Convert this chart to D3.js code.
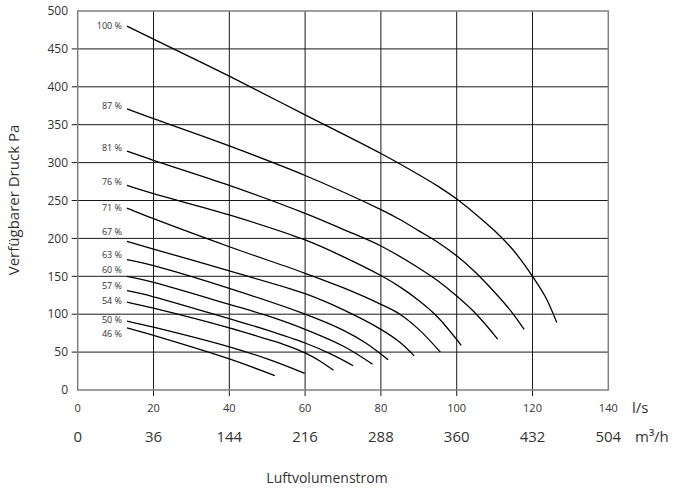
<!DOCTYPE html>
<html><head><meta charset="utf-8">
<script src="https://cdn.jsdelivr.net/npm/d3@7"></script>
<style>
body{margin:0;background:#fff;}
text{font-family:"Open Sans","Noto Sans",sans-serif;}
</style></head>
<body><svg id="c" width="678" height="490"></svg>
<script>
const speeds = ["100 %","87 %","81 %","76 %","71 %","67 %","63 %","60 %","57 %","54 %","50 %","46 %"];
const labelPa = [481,375,320,274,240,208,178,158,138,118,92,74];
const c100 = [[13,480],[20,463],[40,414],[60,363],[80,312],[90,284],[95,269],[100,252],[105,232],[110,210],[115,184],[120,150],[123.5,122],[126.4,89]];
const c87  = [[13,371],[20,358],[40,322],[60,283],[80,238],[85,225],[90,210],[95,195],[100,177],[105,155],[110,129],[114,106],[117.8,80]];
const c81  = [[13,315],[20,303],[40,270],[60,233],[70,212],[80,190],[90,161],[95,144],[100,124],[105,101],[110.8,67]];
const c76  = [[13,270],[20,259],[40,231],[60,198],[70,176],[80,151],[85,136],[90,118],[95,96],[101.2,59]];
const c71  = [[13,240],[20,226],[40,189],[60,154],[70,135],[80,113],[85,100],[90,80],[95.7,50]];
const c67  = [[13,196],[20,186],[40,157],[60,127],[70,106],[80,80],[85,63],[88.8,45]];
const c63  = [[13,172],[20,164],[40,134],[60,100],[70,79],[76,62],[81.9,40]];
const c60  = [[13,150],[20,142],[40,113],[50,98],[60,80],[70,58],[77.8,34]];
const c57  = [[13,131],[20,123],[40,94],[50,79],[60,62],[67,47],[72.7,32]];
const c54  = [[13,116],[20,108],[40,82],[50,67],[55,59],[60,49],[64,38],[67.5,26]];
const c50  = [[13,91],[20,83],[40,57],[50,41],[59.9,22]];
const c46  = [[13,82],[20,72],[40,41],[52,19]];
const curves = [c100,c87,c81,c76,c71,c67,c63,c60,c57,c54,c50,c46];
const xTicks = [0,20,40,60,80,100,120,140];
const m3hLabels = ["0","36","144","216","288","360","432","504"];
const yTicks = [0,50,100,150,200,250,300,350,400,450,500];

const svg = d3.select("#c");
const x = d3.scaleLinear().domain([0,140]).range([77.7,608.3]);
const y = d3.scaleLinear().domain([0,500]).range([390,11]);

// grid
const g = svg.append("g");
g.selectAll("line.h").data(yTicks.filter(d=>d>0&&d<500)).join("line")
  .attr("x1",x(0)-6).attr("x2",x(140)).attr("y1",d=>y(d)).attr("y2",d=>y(d))
  .attr("stroke","#1a1a1a").attr("stroke-width",1);
g.selectAll("line.v").data(xTicks.filter(d=>d>0&&d<140)).join("line")
  .attr("y1",y(500)).attr("y2",y(0)+6).attr("x1",d=>x(d)).attr("x2",d=>x(d))
  .attr("stroke","#1a1a1a").attr("stroke-width",1);
// frame
svg.append("rect").attr("x",x(0)).attr("y",y(500)).attr("width",x(140)-x(0)).attr("height",y(0)-y(500))
  .attr("fill","none").attr("stroke","#808080").attr("stroke-width",1.5);

// y labels
svg.selectAll("text.yl").data(yTicks).join("text")
  .attr("x",68).attr("y",d=>y(d)).attr("dy","0.35em").attr("text-anchor","end")
  .attr("font-size",12).attr("fill","#333").text(d=>d);
// x labels row 1
svg.selectAll("text.xl").data(xTicks).join("text")
  .attr("x",d=>x(d)).attr("y",408).attr("dy","0.35em").attr("text-anchor","middle")
  .attr("font-size",11).attr("fill","#333").text(d=>d);
svg.append("text").attr("x",632).attr("y",408).attr("dy","0.35em").attr("font-size",15).attr("fill","#333").text("l/s");
// x labels row 2
svg.selectAll("text.xm").data(xTicks).join("text")
  .attr("x",d=>x(d)).attr("y",437).attr("dy","0.35em").attr("text-anchor","middle")
  .attr("font-size",15).attr("fill","#333").text((d,i)=>m3hLabels[i]);
svg.append("text").attr("x",635).attr("y",437).attr("dy","0.35em").attr("font-size",15).attr("fill","#333").text("m³/h");
// axis titles
svg.append("text").attr("x",327).attr("y",478).attr("dy","0.35em").attr("text-anchor","middle")
  .attr("font-size",14).attr("fill","#333").text("Luftvolumenstrom");
svg.append("text").attr("transform","translate(14,200) rotate(-90)").attr("dy","0.35em").attr("text-anchor","middle")
  .attr("font-size",15).attr("fill","#333").text("Verfügbarer Druck Pa");

// curves
const line = d3.line().x(d=>x(d[0])).y(d=>y(d[1])).curve(d3.curveCatmullRom.alpha(0.5));
svg.selectAll("path.c").data(curves).join("path")
  .attr("d",line).attr("fill","none").attr("stroke","#000").attr("stroke-width",1.3);
svg.selectAll("text.cl").data(speeds).join("text")
  .attr("x",122).attr("y",(d,i)=>y(labelPa[i])).attr("dy","0.35em").attr("text-anchor","end")
  .attr("font-size",9).attr("fill","#333").text(d=>d);
</script></body></html>
